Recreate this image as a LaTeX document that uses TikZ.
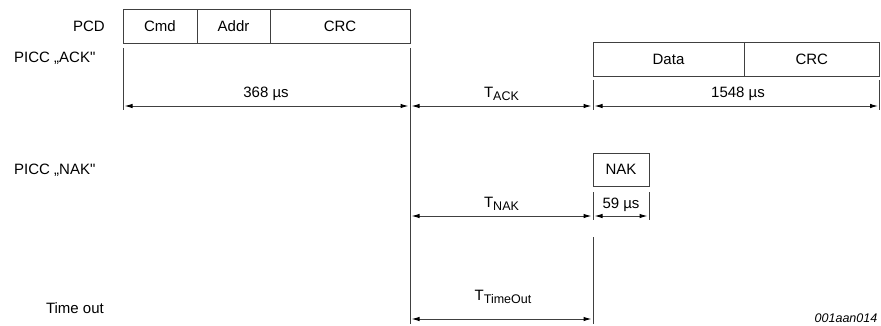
\documentclass[tikz,border=0pt]{standalone}
\usepackage{fontspec}
\setmainfont{Liberation Sans}
\usetikzlibrary{arrows.meta}
\newcommand\tsub[1]{\raisebox{-2.5pt}{\fontsize{12.5}{12.5}\selectfont #1}}
\begin{document}
\begin{tikzpicture}[x=1pt,y=-1pt,
  field/.style={draw=black!75, line width=1pt, inner sep=0pt, outer sep=0pt, minimum height=34pt, font=\fontsize{15}{16}\selectfont},
  lbl/.style={font=\fontsize{15}{16}\selectfont, inner sep=0pt},
  tick/.style={draw=black!75, line width=1pt},
  dim/.style={draw=black!75, line width=1pt, {Latex[length=8pt,width=4.5pt,color=black]}-{Latex[length=8pt,width=4.5pt,color=black]}, shorten <=1.5pt, shorten >=1.5pt}]
\useasboundingbox (0,0) rectangle (881,325);
% frames
\node[field, minimum width=74pt] (cmd) at (160,26) {Cmd};
\node[field, minimum width=73pt] (addr) at (233.5,26) {Addr};
\node[field, minimum width=140pt] (crc) at (340,26) {CRC};
\node[field, minimum width=151pt] (data) at (668.5,59) {Data};
\node[field, minimum width=135.5pt] (crc2) at (811.75,59) {CRC};
\node[field, minimum width=56pt, minimum height=33pt] (nak) at (621,169.5) {NAK};
% tick lines
\coordinate (a1) at (123,48); \coordinate (a2) at (123,110);
\coordinate (b1) at (410,48); \coordinate (b2) at (410,324);
\coordinate (c1) at (593,80); \coordinate (c2) at (593,110);
\coordinate (d1) at (879.5,80); \coordinate (d2) at (879.5,110);
\coordinate (e1) at (593,192); \coordinate (e2) at (593,220);
\coordinate (f1) at (649,192); \coordinate (f2) at (649,220);
\coordinate (g1) at (593,237); \coordinate (g2) at (593,324);
\draw[tick] (a1) -- (a2);
\draw[tick] (b1) -- (b2);
\draw[tick] (c1) -- (c2);
\draw[tick] (d1) -- (d2);
\draw[tick] (e1) -- (e2);
\draw[tick] (f1) -- (f2);
\draw[tick] (g1) -- (g2);
% dimension levels
\coordinate (yack) at (0,106);
\coordinate (ynak) at (0,216);
\coordinate (yto) at (0,319);
\draw[dim] (a1 |- yack) -- (b1 |- yack);
\draw[dim] (b1 |- yack) -- (c1 |- yack);
\draw[dim] (c1 |- yack) -- (d1 |- yack);
\draw[dim] (b1 |- ynak) -- (e1 |- ynak);
\draw[dim] (e1 |- ynak) -- (f1 |- ynak);
\draw[dim] (b1 |- yto) -- (g1 |- yto);
% labels
\node[lbl] (l368) at (266,94) {368 µs};
\node[lbl] (tack) at (501.5,94) {T\tsub{ACK}};
\node[lbl] (l1548) at (738,94) {1548 µs};
\node[lbl] (tnak) at (501.5,204) {T\tsub{NAK}};
\node[lbl] (l59) at (621,205) {59 µs};
\node[lbl] (tto) at (503,297) {T\tsub{TimeOut}};
\node[lbl, font=\itshape\fontsize{12.5}{14}\selectfont] (id) at (846,318) {001aan014};
\node[lbl, anchor=east] (pcd) at (105,26) {PCD};
\node[lbl, anchor=west] (pack) at (14,58) {PICC ,,ACK\textquotedbl};
\node[lbl, anchor=west] (pnak) at (14,170) {PICC ,,NAK\textquotedbl};
\node[lbl, anchor=east] (tout) at (104,308) {Time out};
\end{tikzpicture}
\end{document}
